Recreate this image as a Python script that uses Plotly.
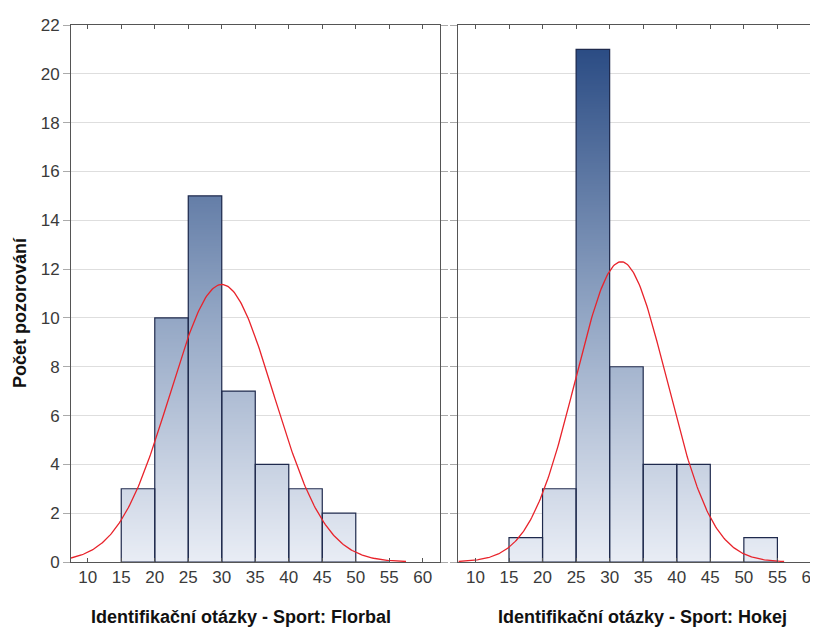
import numpy as np
import plotly.graph_objects as go

# ---- data ----
bin_left_edges = [15, 20, 25, 30, 35, 40, 45, 50]
bin_width = 5
florbal_counts = [3, 10, 15, 7, 4, 3, 2, 0]
hokej_counts = [1, 3, 21, 8, 4, 4, 0, 1]

# fitted normal parameters
florbal_mean, florbal_sd = 30.0, 7.72
hokej_mean, hokej_sd = 31.7, 6.81

x_tick_vals = [10, 15, 20, 25, 30, 35, 40, 45, 50, 55, 60]
y_tick_vals = [0, 2, 4, 6, 8, 10, 12, 14, 16, 18, 20, 22]

left_title = "Identifikační otázky - Sport: Florbal"
right_title = "Identifikační otázky - Sport: Hokej"
y_title = "Počet pozorování"

# page body has an 8px margin; compensate so content lands at reference pixels
OFF = 8
W, H = 818 - OFF, 627 - OFF
ML, MR, MT = 71 - OFF, 0, 25 - OFF
MB = H - (562 - OFF)
FONT = "Liberation Sans, Arial, sans-serif"

fig = go.Figure()

def add_panel(counts, mean, sd, xa, ya, curve_lo, curve_hi):
    edges = list(bin_left_edges) + [bin_left_edges[-1] + bin_width]
    centers = [e + bin_width / 2 for e in bin_left_edges]
    step = 0.05
    ymax = max(counts)
    y_edges = np.arange(0, ymax + step / 2, step)
    y_cent = (y_edges[:-1] + y_edges[1:]) / 2
    z = [[(yc if yc < c else None) for c in counts] for yc in y_cent]
    fig.add_trace(go.Heatmap(
        x=edges, y=y_edges, z=z, xaxis=xa, yaxis=ya,
        colorscale=[[0, "#e9edf5"], [0.5, "#8fa3c2"], [1, "#2b4c84"]],
        zmin=0, zmax=21, showscale=False, hoverinfo="skip", zsmooth=False,
    ))
    fig.add_trace(go.Bar(
        x=centers, y=counts, width=bin_width, xaxis=xa, yaxis=ya,
        marker=dict(color="rgba(0,0,0,0)", line=dict(color="#1f2a4d", width=1.2)),
        showlegend=False, hoverinfo="skip",
    ))
    n = sum(counts)
    xs = np.linspace(curve_lo, curve_hi, 300)
    ys = n * bin_width / (sd * np.sqrt(2 * np.pi)) * np.exp(-((xs - mean) ** 2) / (2 * sd ** 2))
    fig.add_trace(go.Scatter(
        x=xs, y=ys, mode="lines", xaxis=xa, yaxis=ya,
        line=dict(color="#e8232b", width=1.3), showlegend=False, hoverinfo="skip",
    ))

add_panel(florbal_counts, florbal_mean, florbal_sd, "x", "y", 7.5, 57.5)
add_panel(hokej_counts, hokej_mean, hokej_sd, "x2", "y2", 7.5, 56.0)

pw = W - ML - MR
dom1 = [0, (440 - OFF - ML) / pw]
dom2 = [(458 - OFF - ML) / pw, 1]

xcommon = dict(
    tickmode="array", tickvals=x_tick_vals, ticks="inside", ticklen=4,
    tickcolor="#555", showline=True, linecolor="#555", linewidth=1,
    mirror="ticks", showgrid=False, zeroline=False, automargin=False,
    ticklabeloverflow="allow",
    tickfont=dict(family=FONT, size=17, color="#3a3a3a"),
)
ycommon = dict(
    range=[0, 22], tickmode="array", tickvals=y_tick_vals, ticks="outside",
    ticklen=7, tickcolor="#aaa", showline=True, linecolor="#555", linewidth=1,
    showgrid=True, gridcolor="#dedede", gridwidth=1, zeroline=False,
    automargin=False,
    tickfont=dict(family=FONT, size=17, color="#3a3a3a"),
)

fig.update_layout(
    width=W, height=H,
    margin=dict(l=ML, r=MR, t=MT, b=MB, autoexpand=False),
    paper_bgcolor="white", plot_bgcolor="white",
    showlegend=False, barmode="overlay",
    xaxis=dict(domain=dom1, range=[7.5, 62.57], anchor="y", **xcommon),
    xaxis2=dict(domain=dom2, range=[7.4, 61.05], anchor="y2", **xcommon),
    yaxis=dict(anchor="x", mirror="ticks", **ycommon),
    yaxis2=dict(anchor="x2", showticklabels=False, mirror=False, **ycommon),
)

ph = H - MT - MB
def px_to_paper(xp, yp):
    return (xp - OFF - ML) / pw, (H - MB - (yp - OFF)) / ph

ax, ay = px_to_paper(241, 617)
bx, by = px_to_paper(642, 617)
cx, cy = px_to_paper(20, 313)
for txt, x, y, ang in [(left_title, ax, ay, 0), (right_title, bx, by, 0), (y_title, cx, cy, -90)]:
    fig.add_annotation(text="<b>" + txt + "</b>", x=x, y=y, xref="paper", yref="paper",
                       showarrow=False, textangle=ang,
                       font=dict(family=FONT, size=18, color="#111"),
                       xanchor="center", yanchor="middle")

fig.write_html("out.html")
